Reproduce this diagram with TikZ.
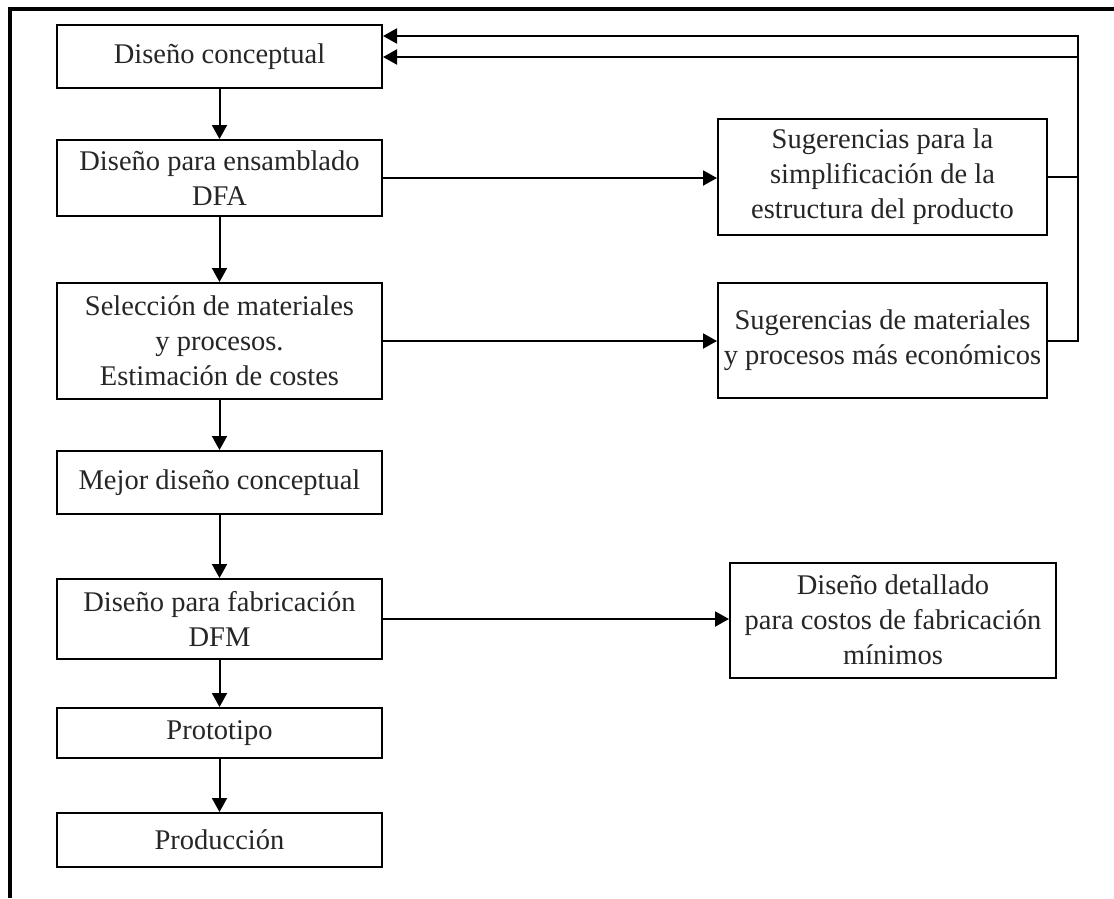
\documentclass[tikz,border=0pt]{standalone}
\usepackage{fontspec}
\setmainfont{Liberation Serif}
\usetikzlibrary{arrows.meta}
\begin{document}
\begin{tikzpicture}[x=1pt,y=-1pt,
  box/.style={draw, line width=2pt, align=center, inner sep=0pt,
    font=\fontsize{28.5}{35}\selectfont, text=black!85},
  arr/.style={line width=2pt, -{Triangle[length=14pt,width=15pt]}},
  ln/.style={line width=2pt}]
\useasboundingbox (0,0) rectangle (1114,898);
\fill[white] (0,0) rectangle (1114,898);
% frame (top and left)
\draw[line width=4pt] (1114,9) -- (10,9) -- (10,898);
% main column
\node[box, minimum width=325pt, minimum height=63pt] (c1) at (219.5,56.5) {Diseño conceptual};
\node[box, minimum width=325pt, minimum height=76pt] (c2) at (219.5,178) {Diseño para ensamblado\\DFA};
\node[box, minimum width=325pt, minimum height=116pt] (c3) at (219.5,341) {Selección de materiales\\y procesos.\\Estimación de costes};
\node[box, minimum width=325pt, minimum height=63pt] (c4) at (219.5,482.5) {Mejor diseño conceptual};
\node[box, minimum width=325pt, minimum height=80pt] (c5) at (219.5,619) {Diseño para fabricación\\DFM};
\node[box, minimum width=325pt, minimum height=50pt] (c6) at (219.5,733) {Prototipo};
\node[box, minimum width=325pt, minimum height=54pt] (c7) at (219.5,840) {Producción};
% right column
\node[box, minimum width=329pt, minimum height=116pt] (s1) at (882.5,177) {Sugerencias para la\\simplificación de la\\estructura del producto};
\node[box, minimum width=329pt, minimum height=115pt] (s2) at (882.5,340.5) {Sugerencias de materiales\\y procesos más económicos};
\node[box, minimum width=326pt, minimum height=115pt] (s3) at (893,620) {Diseño detallado\\para costos de fabricación\\mínimos};
% vertical flow
\draw[arr] (c1) -- (c2);
\draw[arr] (c2) -- (c3);
\draw[arr] (c3) -- (c4);
\draw[arr] (c4) -- (c5);
\draw[arr] (c5) -- (c6);
\draw[arr] (c6) -- (c7);
% horizontal flow
\draw[arr] (c2.east) -- (s1.west |- c2.east);
\draw[arr] (c3.east) -- (s2.west |- c3.east);
\draw[arr] (c5.east) -- (s3.west |- c5.east);
% feedback
\coordinate (fa) at (1078,177);
\coordinate (fb) at (1078,57);
\coordinate (fc) at (1078,341);
\coordinate (fd) at (1078,36);
\draw[arr] (s1.east |- fa) -- (fa) -- (fb) -- (c1.east |- fb);
\draw[arr] (s2.east |- fc) -- (fc) -- (fd) -- (c1.east |- fd);
\end{tikzpicture}
\end{document}
